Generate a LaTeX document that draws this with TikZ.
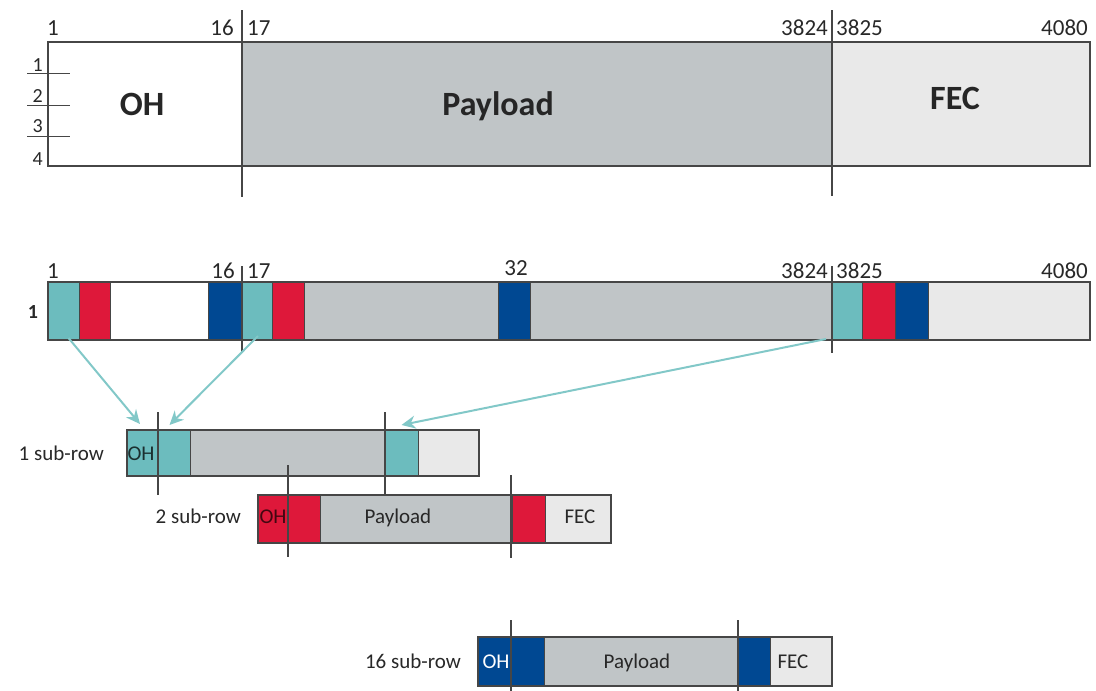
\documentclass[tikz,border=0pt]{standalone}
\usepackage{fontspec}
\setmainfont{Carlito}
\usetikzlibrary{arrows.meta,calc}
\definecolor{cteal}{RGB}{108,188,190}
\definecolor{cred}{RGB}{222,24,58}
\definecolor{cblue}{RGB}{0,72,146}
\definecolor{cgray}{RGB}{192,197,199}
\definecolor{clight}{RGB}{233,233,233}
\definecolor{carrow}{RGB}{130,200,200}
\definecolor{cline}{RGB}{70,70,70}
\definecolor{ctext}{RGB}{40,40,40}
\newcommand{\seg}[6]{%
  \pgfmathsetmacro\segw{#3-#2}\pgfmathsetmacro\segh{#5-#4}%
  \node[segbox, fill=#6, minimum width=\segw pt, minimum height=\segh pt] (#1) at ({(#2+#3)/2},{(#4+#5)/2}) {};}
\begin{document}
\begin{tikzpicture}[x=1pt,y=-1pt,
  segbox/.style={draw=cline, line width=0.8pt, inner sep=0pt, outer sep=0pt},
  frame/.style={draw=cline, line width=1.6pt},
  divline/.style={draw=cline, line width=1.2pt},
  tick/.style={draw=cline, line width=1pt},
  num/.style={inner sep=0pt, text=ctext, font=\fontsize{23}{23}\selectfont},
  rownum/.style={inner sep=0pt, text=ctext, font=\fontsize{20}{20}\selectfont},
  big/.style={inner sep=0pt, text=black!85, font=\fontsize{34}{34}\selectfont\bfseries},
  sub/.style={inner sep=0pt, text=ctext, font=\fontsize{21}{21}\selectfont},
  conn/.style={draw=carrow, line width=2pt, -{Stealth[length=14pt,width=13pt]}}]
\useasboundingbox (0,0) rectangle (1096,691);
% ---------- top frame ----------
\seg{toh}{48}{242}{42}{166}{white}
\seg{tpay}{242}{832}{42}{166}{cgray}
\seg{tfec}{832}{1090}{42}{166}{clight}
\draw[frame] (toh.north west) rectangle (tfec.south east);
\coordinate (tv1a) at (242,10); \coordinate (tv1b) at (242,197);
\coordinate (tv2a) at (832,10); \coordinate (tv2b) at (832,196);
\draw[divline] (tv1a) -- (tv1b);
\draw[divline] (tv2a) -- (tv2b);
\node[big] (lOH) at (142,104) {OH};
\node[big] (lPay) at (498,106) {Payload};
\node[big] (lFEC) at (955,98) {FEC};
\node[num, anchor=base west] (n1) at (47,35) {1};
\node[num, anchor=base east] (n16) at (234,35) {16};
\node[num, anchor=base west] (n17) at (247,35) {17};
\node[num, anchor=base east] (n3824) at (828,35) {3824};
\node[num, anchor=base west] (n3825) at (836,35) {3825};
\node[num, anchor=base east] (n4080) at (1088,35) {4080};
% row ticks
\coordinate (t1a) at (27,73); \coordinate (t1b) at (70,73);
\coordinate (t2a) at (27,105); \coordinate (t2b) at (70,105);
\coordinate (t3a) at (27,136); \coordinate (t3b) at (70,136);
\draw[tick] (t1a) -- (t1b);
\draw[tick] (t2a) -- (t2b);
\draw[tick] (t3a) -- (t3b);
\node[rownum, anchor=base east] (r1) at (43,71) {1};
\node[rownum, anchor=base east] (r2) at (43,102) {2};
\node[rownum, anchor=base east] (r3) at (43,132) {3};
\node[rownum, anchor=base east] (r4) at (43,165) {4};
% ---------- second row ----------
\seg{rt1}{48}{79}{282}{340}{cteal}
\seg{rr1}{79}{110}{282}{340}{cred}
\seg{rw}{110}{208}{282}{340}{white}
\seg{rb1}{208}{242}{282}{340}{cblue}
\seg{rt2}{242}{272}{282}{340}{cteal}
\seg{rr2}{272}{304}{282}{340}{cred}
\seg{rg1}{304}{498}{282}{340}{cgray}
\seg{rb2}{498}{530}{282}{340}{cblue}
\seg{rg2}{530}{832}{282}{340}{cgray}
\seg{rt3}{832}{862}{282}{340}{cteal}
\seg{rr3}{862}{895}{282}{340}{cred}
\seg{rb3}{895}{928}{282}{340}{cblue}
\seg{rl}{928}{1090}{282}{340}{clight}
\draw[frame] (rt1.north west) rectangle (rl.south east);
\coordinate (rv1a) at (242,266); \coordinate (rv1b) at (242,353);
\coordinate (rv2a) at (832,266); \coordinate (rv2b) at (832,353);
\draw[divline] (rv1a) -- (rv1b);
\draw[divline] (rv2a) -- (rv2b);
\node[num, anchor=base west] (m1) at (47,278) {1};
\node[num, anchor=base east] (m16) at (235,278) {16};
\node[num, anchor=base west] (m17) at (247,278) {17};
\node[num] (m32) at (516,268) {32};
\node[num, anchor=base east] (m3824) at (828,278) {3824};
\node[num, anchor=base west] (m3825) at (836,278) {3825};
\node[num, anchor=base east] (m4080) at (1088,278) {4080};
\node[rownum, font=\fontsize{20}{20}\selectfont\bfseries] (mr1) at (33,312) {1};
% ---------- sub-row 1 ----------
\seg{s1oh}{127}{190}{430}{476}{cteal}
\seg{s1g}{190}{385}{430}{476}{cgray}
\seg{s1t}{385}{418}{430}{476}{cteal}
\seg{s1l}{418}{479}{430}{476}{clight}
\draw[frame] (s1oh.north west) rectangle (s1l.south east);
\coordinate (s1va) at (158,412); \coordinate (s1vb) at (158,495);
\coordinate (s1wa) at (385,412); \coordinate (s1wb) at (385,497);
\draw[divline] (s1va) -- (s1vb);
\draw[divline] (s1wa) -- (s1wb);
\node[sub, anchor=base, text=black!75!cteal] (s1ohl) at (141,460) {OH};
\node[sub, anchor=base east] (s1lab) at (104,460) {1 sub-row};
% ---------- sub-row 2 ----------
\seg{s2oh}{258}{320}{495}{543}{cred}
\seg{s2g}{320}{512}{495}{543}{cgray}
\seg{s2r}{512}{545}{495}{543}{cred}
\seg{s2l}{545}{611}{495}{543}{clight}
\draw[frame] (s2oh.north west) rectangle (s2l.south east);
\coordinate (s2va) at (288,465); \coordinate (s2vb) at (288,557);
\coordinate (s2wa) at (511,475); \coordinate (s2wb) at (511,558);
\draw[divline] (s2va) -- (s2vb);
\draw[divline] (s2wa) -- (s2wb);
\node[sub, anchor=base, text=black!70!cred] (s2ohl) at (273,523) {OH};
\node[sub, anchor=base] (s2pay) at (398,523) {Payload};
\node[sub, anchor=base] (s2fec) at (580,523) {FEC};
\node[sub, anchor=base east] (s2lab) at (241,523) {2 sub-row};
% ---------- sub-row 16 ----------
\seg{s3oh}{478}{544}{637}{686}{cblue}
\seg{s3g}{544}{738}{637}{686}{cgray}
\seg{s3b}{738}{770}{637}{686}{cblue}
\seg{s3l}{770}{832}{637}{686}{clight}
\draw[frame] (s3oh.north west) rectangle (s3l.south east);
\coordinate (s3va) at (511,620); \coordinate (s3vb) at (511,691);
\coordinate (s3wa) at (738,620); \coordinate (s3wb) at (738,691);
\draw[divline] (s3va) -- (s3vb);
\draw[divline] (s3wa) -- (s3wb);
\node[sub, anchor=base, text=white] (s3ohl) at (496,668) {OH};
\node[sub, anchor=base] (s3pay) at (637,668) {Payload};
\node[sub, anchor=base] (s3fec) at (793,668) {FEC};
\node[sub, anchor=base east] (s3lab) at (461,668) {16 sub-row};
% ---------- arrows ----------
\draw[conn] ([xshift=5pt,yshift=2pt]rt1.south) -- ([xshift=13pt,yshift=6pt]s1oh.north west);
\draw[conn] ([xshift=1pt,yshift=4pt]rt2.south) -- ([xshift=11pt,yshift=5pt]s1oh.north);
\draw[conn] ([xshift=-6pt,yshift=1pt]rt3.south west) -- ([yshift=5pt]s1t.north);
\end{tikzpicture}
\end{document}
